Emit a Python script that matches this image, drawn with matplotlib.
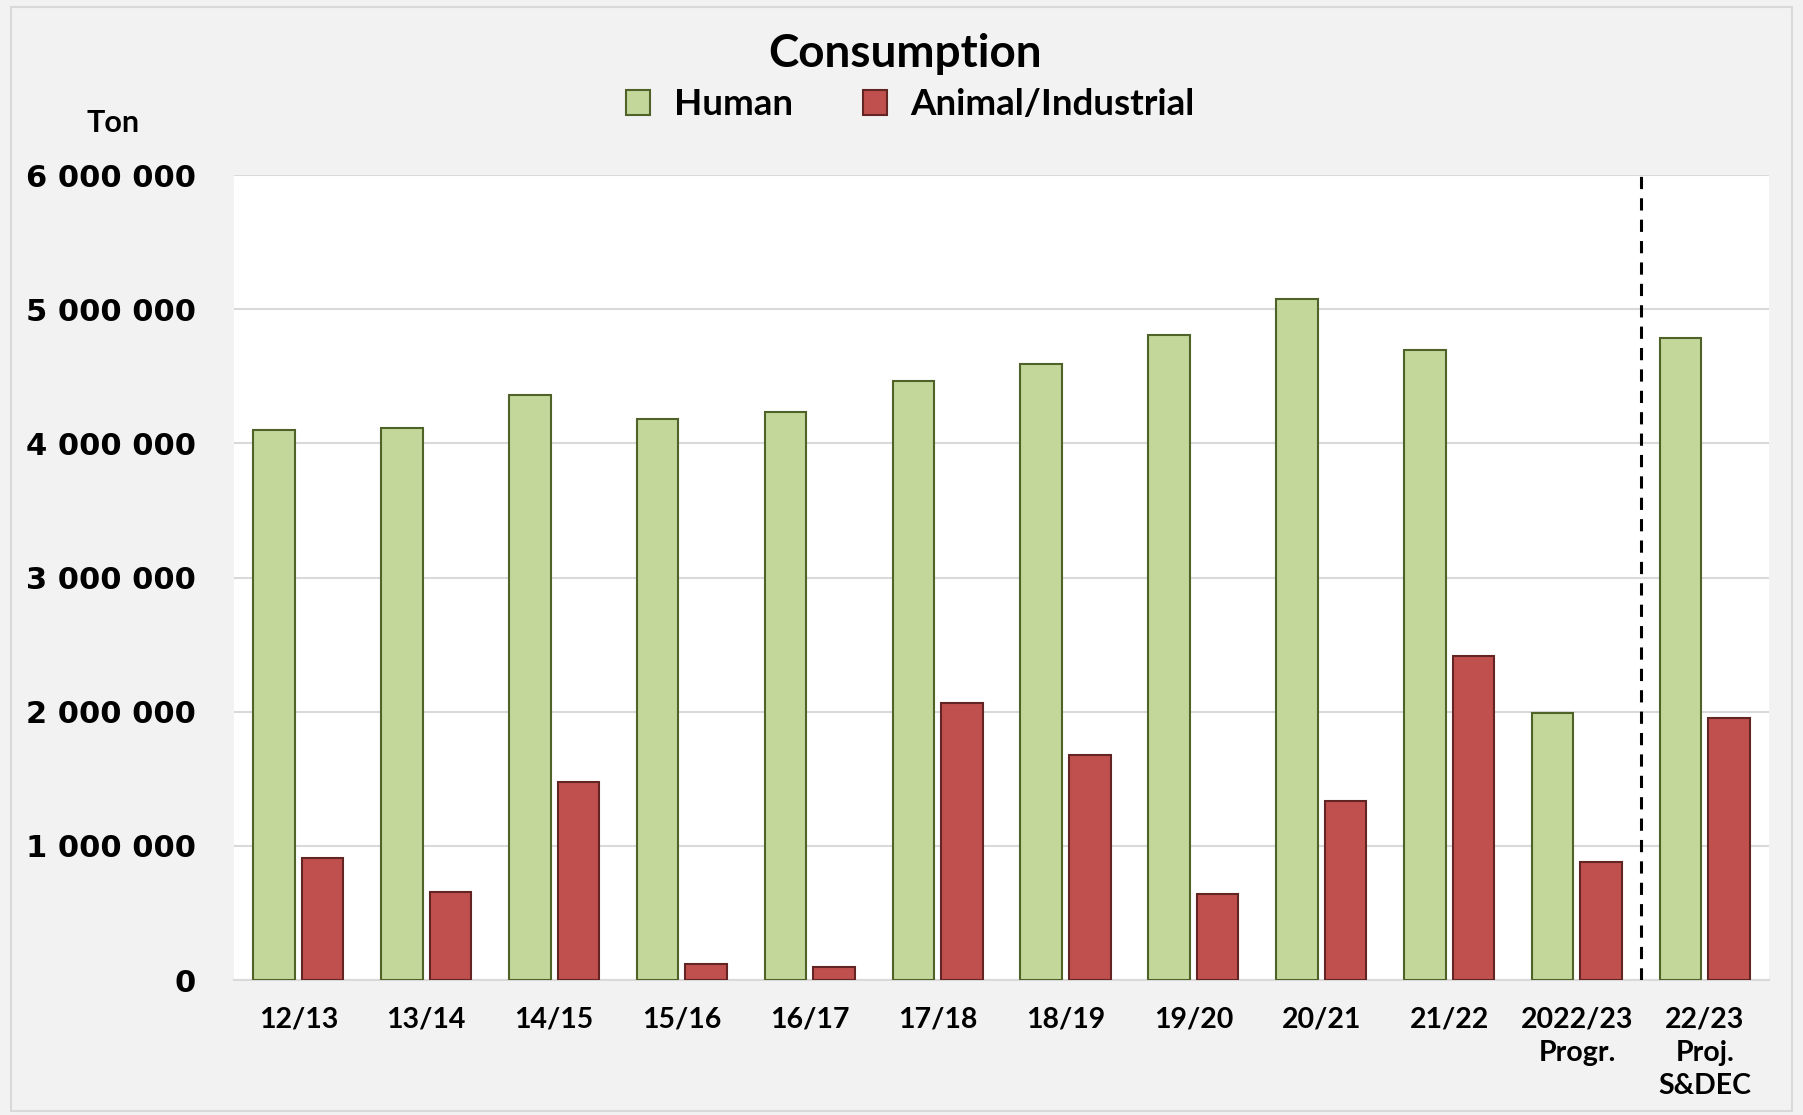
import matplotlib
matplotlib.use("Agg")
import matplotlib.pyplot as plt
from matplotlib.patches import Rectangle
from matplotlib.ticker import FuncFormatter
import numpy as np

categories = ["12/13", "13/14", "14/15", "15/16", "16/17", "17/18", "18/19",
              "19/20", "20/21", "21/22", "2022/23\nProgr.", "22/23\nProj.\nS&DEC"]
human = [4097000, 4114000, 4363000, 4183000, 4234000, 4466000, 4594000,
         4808000, 5074000, 4697000, 1989000, 4783000]
animal = [909000, 660000, 1474000, 120000, 94000, 2066000, 1680000,
          643000, 1337000, 2417000, 883000, 1954000]
yticks = [0, 1000000, 2000000, 3000000, 4000000, 5000000, 6000000]

fig = plt.figure(figsize=(18.03, 11.15), dpi=100)
fig.patch.set_facecolor("#f2f2f2")
ax = fig.add_axes([0.130, 0.121, 0.851, 0.722])
ax.set_facecolor("white")

x = np.arange(len(categories))
w = 0.325
ax.bar(x - 0.19, human, width=w, color="#c4d79b", edgecolor="#4f6228",
       linewidth=1.5, label="Human", zorder=3)
ax.bar(x + 0.19, animal, width=w, color="#c0504d", edgecolor="#632523",
       linewidth=1.5, label="Animal/Industrial", zorder=3)

ax.set_xlim(-0.5, len(categories) - 0.5)
ax.set_ylim(0, 6000000)
ax.set_yticks(yticks)
ax.yaxis.set_major_formatter(FuncFormatter(lambda v, p: f"{int(v):,}".replace(",", " ")))
ax.set_xticks(x)
ax.set_xticklabels(categories, fontfamily="Lato", fontweight="bold", fontsize=20.5,
                   linespacing=1.35)
for lab in ax.get_yticklabels():
    lab.set_fontfamily("DejaVu Sans")
    lab.set_fontweight("bold")
    lab.set_fontsize(22)
ax.tick_params(axis="y", length=0, pad=28)
ax.tick_params(axis="x", length=0, pad=19)
ax.grid(axis="y", color="#d9d9d9", linewidth=1.5, zorder=0)
for s in ["top", "right", "left"]:
    ax.spines[s].set_visible(False)
ax.spines["bottom"].set_color("#d9d9d9")
ax.spines["bottom"].set_linewidth(1.5)

ax.axvline(10.5, color="black", linestyle=(0, (4, 3)), linewidth=2.2, zorder=4)

fig.text(0.502, 0.952, "Consumption", ha="center", va="center",
         fontfamily="Lato", fontweight="bold", fontsize=33)
fig.text(0.0625, 0.890, "Ton", ha="center", va="center",
         fontfamily="Lato", fontweight="bold", fontsize=22)

leg = ax.legend(loc="center", bbox_to_anchor=(0.505, 0.906),
                bbox_transform=fig.transFigure, ncol=2, frameon=False,
                prop={"family": "Lato", "weight": "bold", "size": 26.5},
                handlelength=0.65, handleheight=0.7, columnspacing=1.9,
                handletextpad=0.65)

fig.patches.append(Rectangle((0.006, 0.004), 0.988, 0.99, transform=fig.transFigure,
                             fill=False, edgecolor="#d9d9d9", linewidth=1.5))

fig.savefig("out.png", dpi=100, facecolor=fig.get_facecolor())
